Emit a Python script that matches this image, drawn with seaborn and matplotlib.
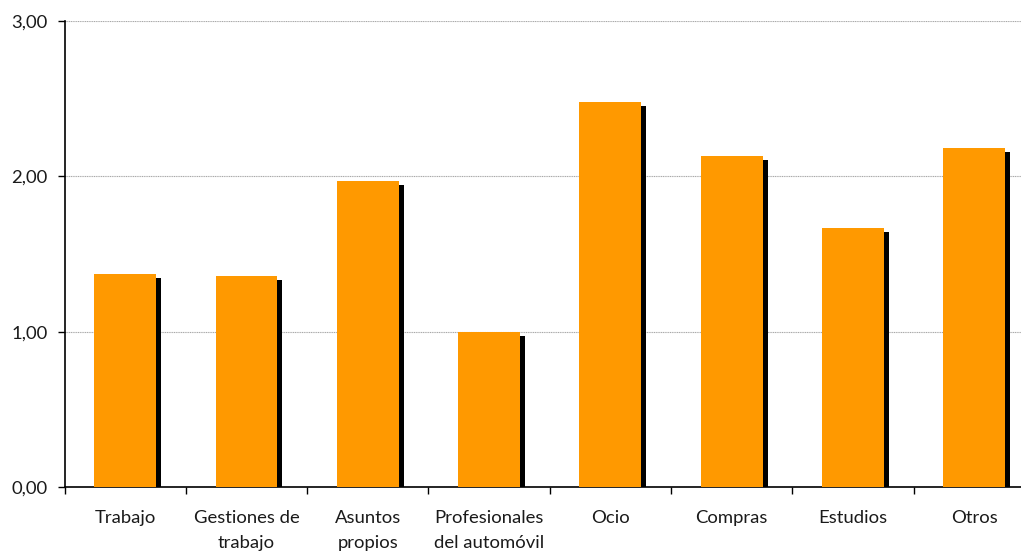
import numpy as np
import pandas as pd
import matplotlib
matplotlib.use("Agg")
import matplotlib.pyplot as plt
import matplotlib.patheffects as pe
from matplotlib.ticker import FuncFormatter
import seaborn as sns

categories = ["Trabajo", "Gestiones de\ntrabajo", "Asuntos\npropios",
              "Profesionales\ndel automóvil", "Ocio", "Compras", "Estudios", "Otros"]
values = [1.37, 1.36, 1.97, 1.00, 2.48, 2.13, 1.67, 2.18]

df = pd.DataFrame({"motivo": categories, "valor": values})

sns.set_theme(style="white")
plt.rcParams["font.family"] = ["Lato", "DejaVu Sans"]

fig = plt.figure(figsize=(10.21, 5.52), dpi=100)
ax = fig.add_axes([0.0632, 0.1178, 0.9505, 0.8442])

sns.barplot(data=df, x="motivo", y="valor", color="#FF9900", saturation=1,
            width=0.51, ax=ax, zorder=3)

# black drop shadow behind each bar
for bar in ax.patches:
    bar.set_edgecolor("none")
    bar.set_path_effects([
        pe.SimplePatchShadow(offset=(3.6, -2.9), shadow_rgbFace="black", alpha=1.0),
        pe.Normal(),
    ])

ax.set_ylim(0, 3)
ax.set_xlim(-0.5, 7.5)
ax.set_yticks([0, 1, 2, 3])
ax.yaxis.set_major_formatter(FuncFormatter(lambda v, p: f"{v:.2f}".replace(".", ",")))
ax.yaxis.grid(True, color="#a8a8a8", linestyle=(0, (1, 0.6)), linewidth=0.8, zorder=0)
ax.set_axisbelow(True)

# category separators as major ticks, names as minor labels
ax.set_xticks(np.arange(-0.5, 8.0, 1.0))
ax.set_xticklabels([])
ax.set_xticks(np.arange(len(categories)), minor=True)
ax.set_xticklabels(categories, minor=True, fontsize=13.3, linespacing=1.72,
                   color="#1a1a1a", va="top")
ax.tick_params(axis="x", which="major", direction="out", length=5, width=1,
               color="black", bottom=True)
ax.tick_params(axis="x", which="minor", length=0, pad=16.5)
ax.tick_params(axis="y", direction="out", length=5, width=1, color="black",
               left=True, labelsize=13.3, labelcolor="#1a1a1a", pad=7)

for s in ["top", "right"]:
    ax.spines[s].set_visible(False)
for s in ["left", "bottom"]:
    ax.spines[s].set_color("black")
    ax.spines[s].set_linewidth(1.2)

ax.set_xlabel("")
ax.set_ylabel("")

fig.savefig("out.png", dpi=100, facecolor="white")
